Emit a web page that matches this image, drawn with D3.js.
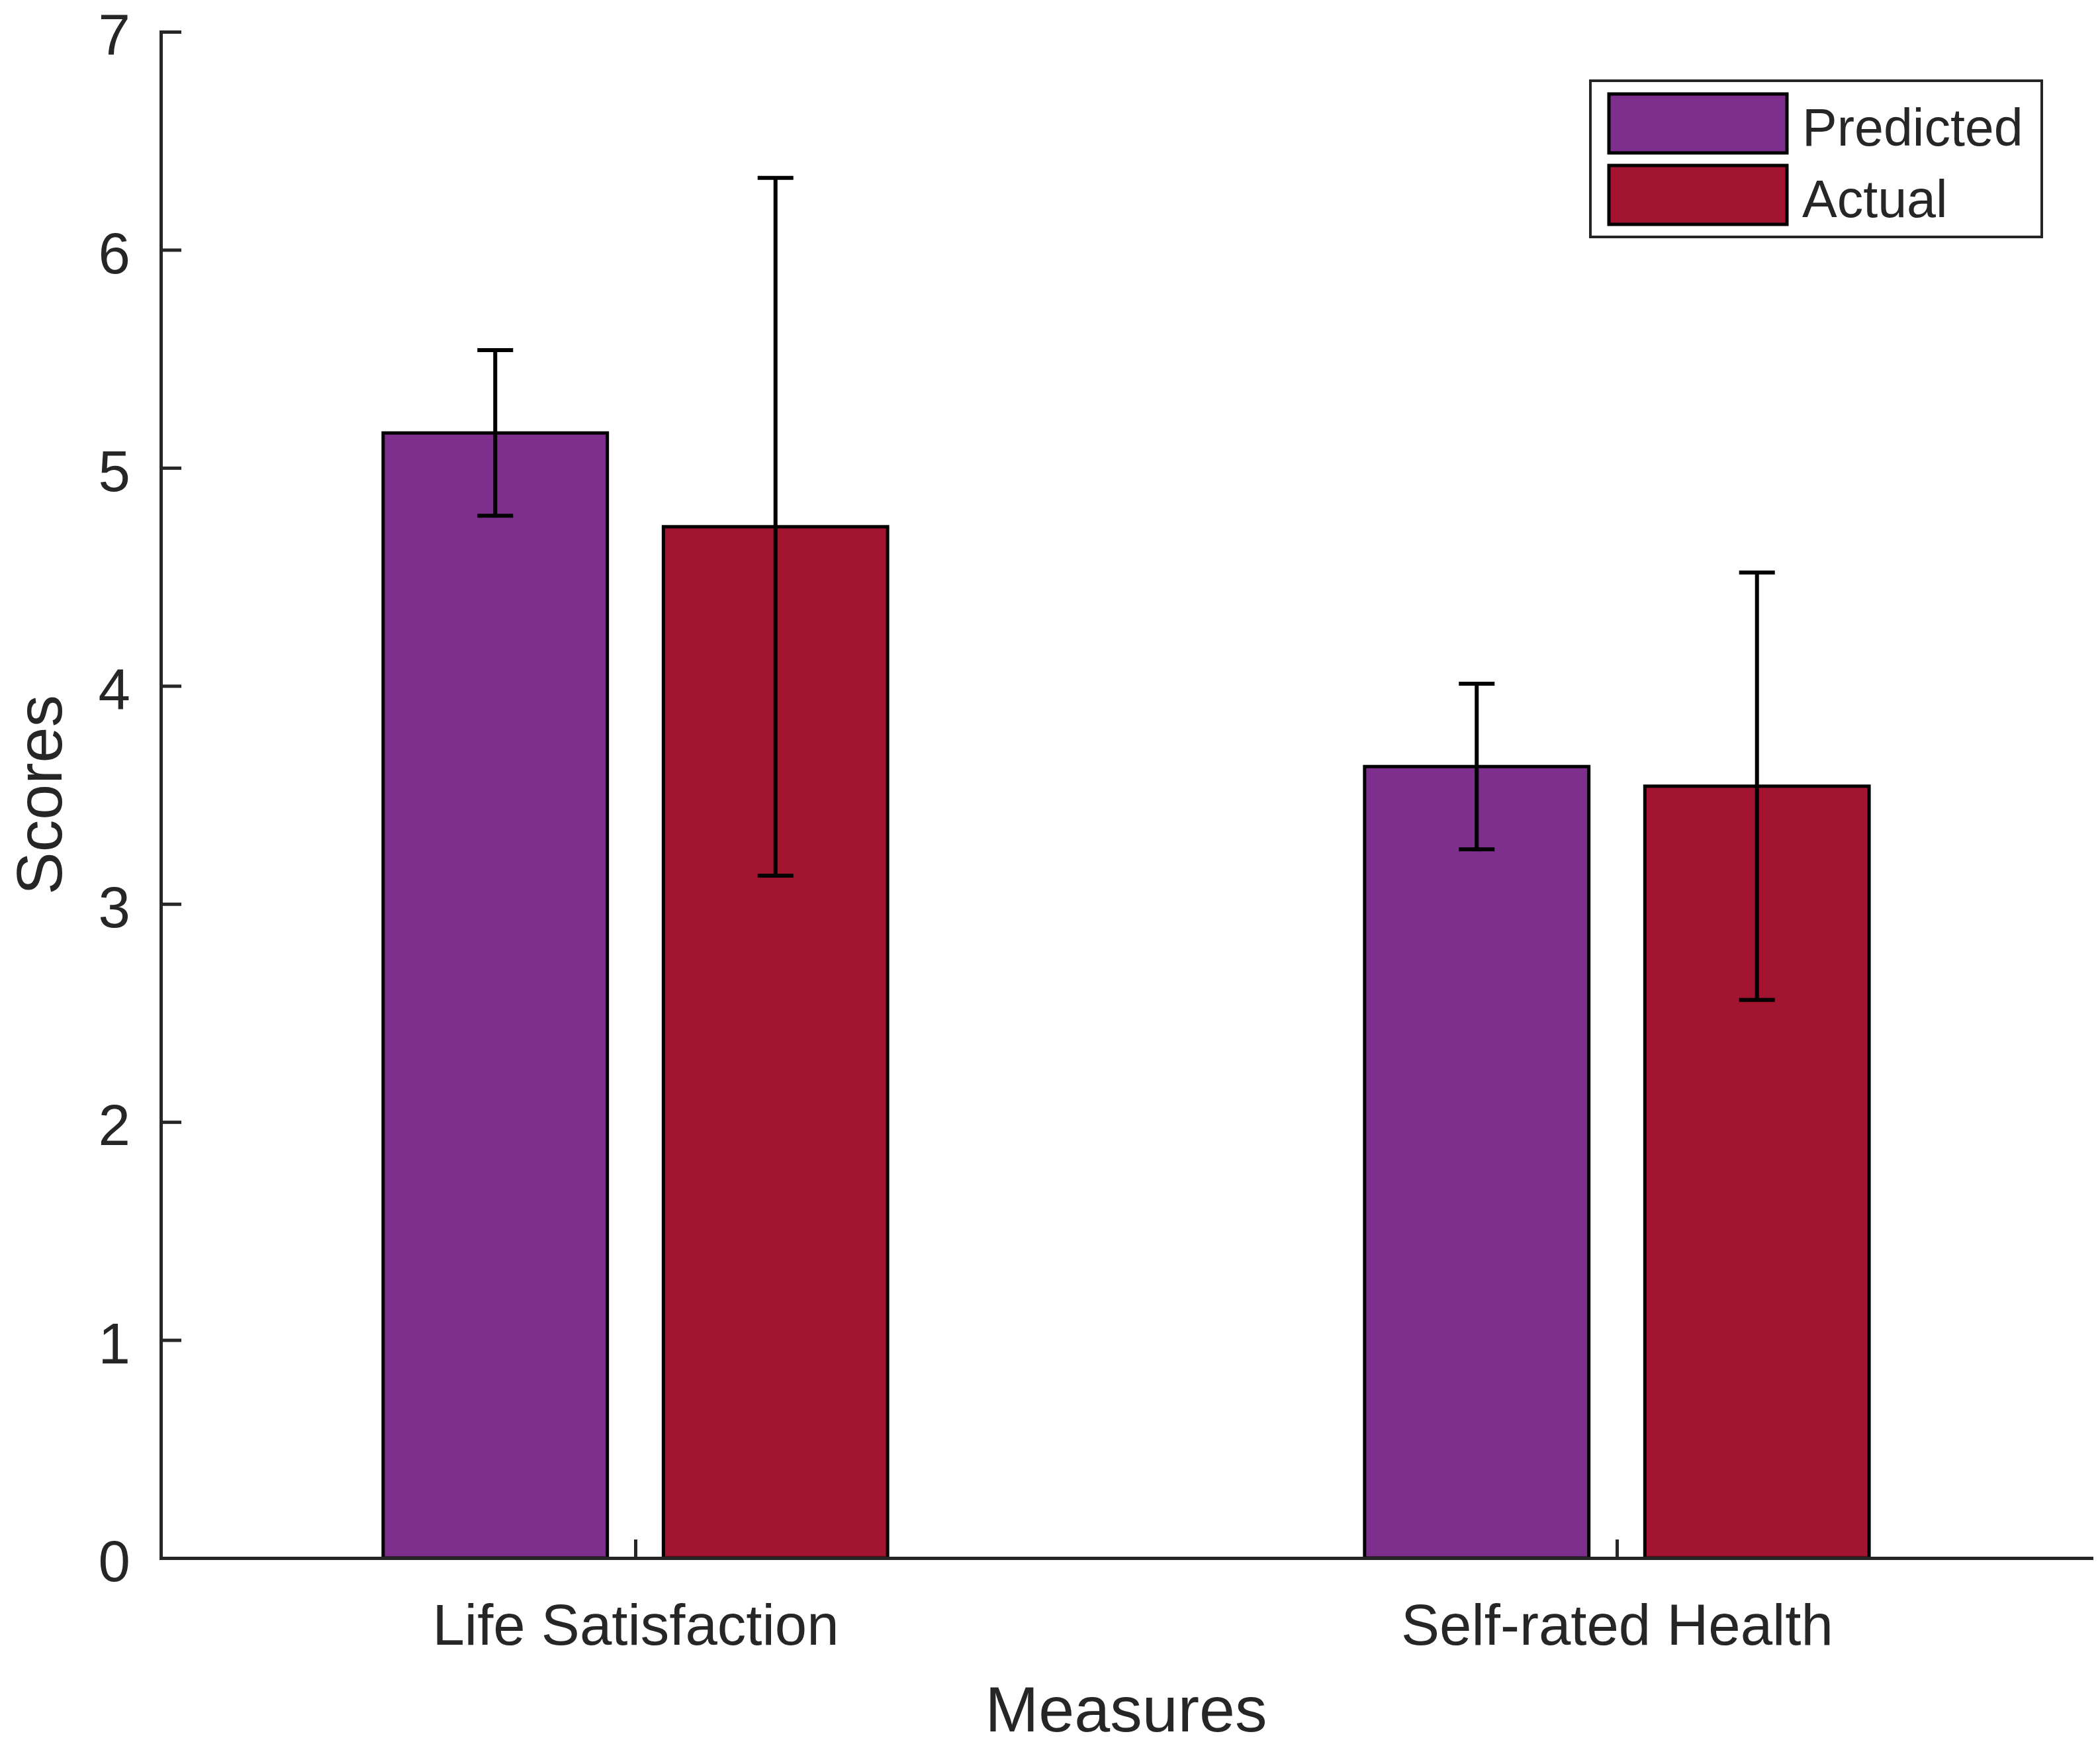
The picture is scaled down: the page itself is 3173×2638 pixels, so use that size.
<!DOCTYPE html>
<html>
<head>
<meta charset="utf-8">
<script src="https://d3js.org/d3.v7.min.js"></script>
<style>
    body { margin: 0; background: #fff; }
    text { font-family: "Liberation Sans", Arial, sans-serif; fill: #262626; }
</style>
</head>
<body>
<script>
"use strict";
// chart values
const categories = ["Life Satisfaction", "Self-rated Health"];
const seriesNames = ["Predicted", "Actual"];
const predicted = [5.16, 3.63];
const actual = [4.73, 3.54];
const predictedErr = [0.38, 0.38];
const actualErr = [1.60, 0.98];
const yTicks = [0, 1, 2, 3, 4, 5, 6, 7];
const colors = ["#7E2F8E", "#A2142F"];

(function() {
const svgSize = {
    width: 3173,
    height: 2638,
}
const plot = { left: 243, right: 3160, top: 48, bottom: 2354 };

    window.addEventListener("load", init);

    function init() {
        const svg = d3.select("body").append("svg")
                        .attr("width", svgSize.width)
                        .attr("height", svgSize.height);

        svg.append("rect")
            .attr("width", svgSize.width)
            .attr("height", svgSize.height)
            .attr("fill", "#fff");

        const x = d3.scalePoint()
            .domain(categories)
            .range([plot.left, plot.right])
            .padding(0.4835);

        const groupWidth = x.step() * 0.514;
        const xInner = d3.scaleBand()
            .domain(seriesNames)
            .range([-groupWidth / 2, groupWidth / 2])
            .paddingInner(0.2)
            .paddingOuter(0);

        const y = d3.scaleLinear()
            .domain([0, 7])
            .range([plot.bottom, plot.top]);

        const rows = [];
        categories.forEach((c, i) => {
            rows.push({ cat: c, series: "Predicted", value: predicted[i], err: predictedErr[i], color: colors[0] });
            rows.push({ cat: c, series: "Actual", value: actual[i], err: actualErr[i], color: colors[1] });
        });

        // bars
        svg.append("g").selectAll("rect")
            .data(rows)
            .enter()
            .append("rect")
                .attr("x", d => x(d.cat) + xInner(d.series))
                .attr("y", d => y(d.value))
                .attr("width", xInner.bandwidth())
                .attr("height", d => y(0) - y(d.value))
                .attr("fill", d => d.color)
                .attr("stroke", "#000")
                .attr("stroke-width", 5);

        // error bars
        const errG = svg.append("g")
            .attr("stroke", "#000")
            .attr("stroke-width", 6);
        const cx = d => x(d.cat) + xInner(d.series) + xInner.bandwidth() / 2;
        const capHalf = 27;
        rows.forEach(d => {
            errG.append("line")
                .attr("x1", cx(d)).attr("x2", cx(d))
                .attr("y1", y(d.value - d.err)).attr("y2", y(d.value + d.err));
            [d.value - d.err, d.value + d.err].forEach(v => {
                errG.append("line")
                    .attr("x1", cx(d) - capHalf).attr("x2", cx(d) + capHalf)
                    .attr("y1", y(v)).attr("y2", y(v));
            });
        });

        // axes
        const yAxis = svg.append("g")
            .attr("transform", `translate(${plot.left},0)`)
            .call(d3.axisLeft(y).tickValues(yTicks).tickFormat(d3.format("d"))
                    .tickSizeInner(-31).tickSizeOuter(0).tickPadding(46));
        yAxis.selectAll("text").attr("dy", "0.4em");

        const xAxis = svg.append("g")
            .attr("transform", `translate(0,${plot.bottom})`)
            .call(d3.axisBottom(x).tickSizeInner(-28).tickSizeOuter(0).tickPadding(69));

        [yAxis, xAxis].forEach(ax => {
            ax.selectAll("path, line")
                .attr("stroke", "#262626")
                .attr("stroke-width", 5);
            ax.selectAll("text")
                .attr("font-size", 87)
                .attr("fill", "#262626");
        });
        yAxis.select(".domain").attr("stroke-linecap", "square");
        xAxis.select(".domain").attr("stroke-linecap", "square");

        // axis titles
        svg.append("text")
            .attr("x", (plot.left + plot.right) / 2)
            .attr("y", 2616)
            .attr("text-anchor", "middle")
            .attr("font-size", 97)
            .text("Measures");

        svg.append("text")
            .attr("transform", `translate(93,${(plot.top + plot.bottom) / 2}) rotate(-90)`)
            .attr("text-anchor", "middle")
            .attr("font-size", 97)
            .text("Scores");

        // legend
        const legend = svg.append("g").attr("transform", "translate(2403,122)");
        legend.append("rect")
            .attr("width", 682)
            .attr("height", 236)
            .attr("fill", "#fff")
            .attr("stroke", "#262626")
            .attr("stroke-width", 4);

        const items = legend.selectAll(".item")
            .data(seriesNames)
            .enter()
            .append("g")
                .attr("transform", (d, i) => `translate(28,${20 + i * 108})`);
        items.append("rect")
            .attr("width", 269)
            .attr("height", 89)
            .attr("fill", (d, i) => colors[i])
            .attr("stroke", "#000")
            .attr("stroke-width", 5);
        items.append("text")
            .attr("x", 292)
            .attr("y", 78)
            .attr("font-size", 79)
            .text(d => d);
    }
})();
</script>
</body>
</html>
